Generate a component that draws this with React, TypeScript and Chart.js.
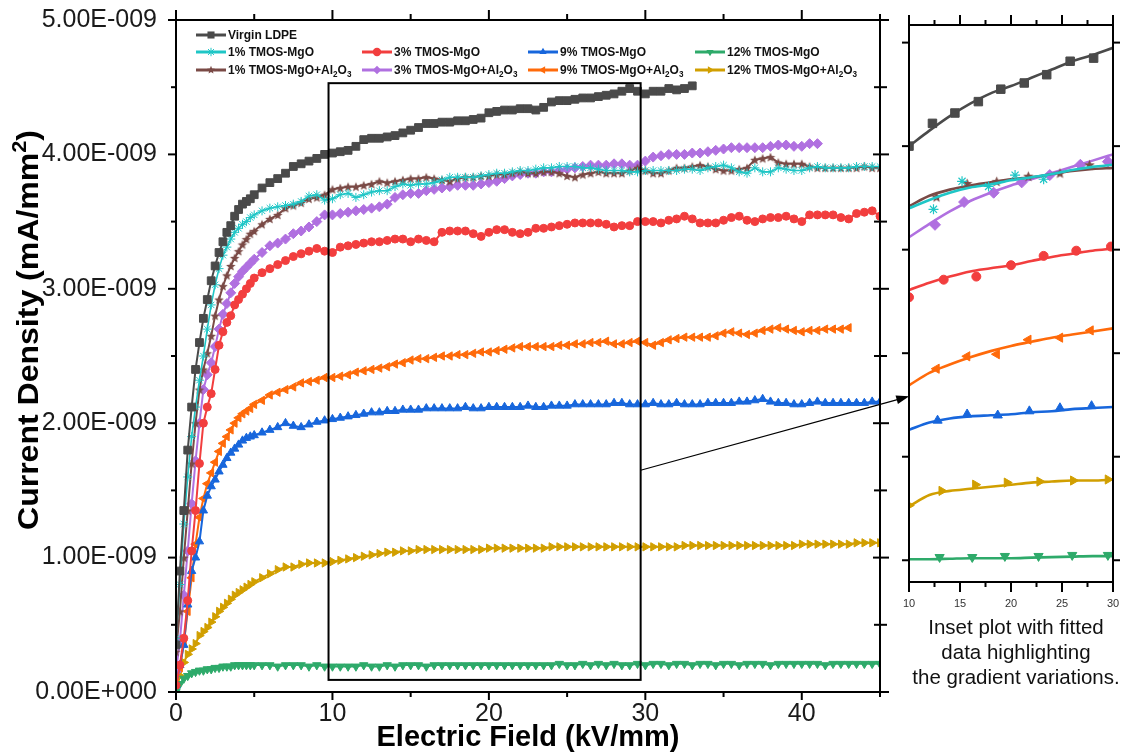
import React, { useEffect, useRef } from 'react';
import { Chart, registerables } from 'chart.js';

Chart.register(...registerables);

const FONT = "'Liberation Sans', Arial, Helvetica, sans-serif";

// ---------------- main plot data (current density in units of 1E-009 mA/mm2) ----------------
const xField = [
  0, 0.25, 0.5, 0.75, 1, 1.25, 1.5, 1.75, 2, 2.25, 2.5, 2.75, 3, 3.25, 3.5, 3.75, 4, 4.25, 4.5, 4.75, 5,
  5.5, 6, 6.5, 7, 7.5, 8, 8.5, 9, 9.5, 10,
  10.5, 11, 11.5, 12, 12.5, 13, 13.5, 14, 14.5, 15,
  15.5, 16, 16.5, 17, 17.5, 18, 18.5, 19, 19.5, 20,
  20.5, 21, 21.5, 22, 22.5, 23, 23.5, 24, 24.5, 25,
  25.5, 26, 26.5, 27, 27.5, 28, 28.5, 29, 29.5, 30,
  30.5, 31, 31.5, 32, 32.5, 33, 33.5, 34, 34.5, 35,
  35.5, 36, 36.5, 37, 37.5, 38, 38.5, 39, 39.5, 40,
  40.5, 41, 41.5, 42, 42.5, 43, 43.5, 44, 44.5, 45,
];

const virginLDPE = [
  0.35, 0.9, 1.35, 1.8, 2.12, 2.4, 2.6, 2.78, 2.92, 3.06, 3.17, 3.27, 3.35, 3.42, 3.47, 3.54, 3.59, 3.63, 3.65, 3.67, 3.7,
  3.75, 3.79, 3.82, 3.86, 3.91, 3.93, 3.95, 3.97, 4.0, 4.01,
  4.02, 4.03, 4.06, 4.11, 4.12, 4.12, 4.13, 4.14, 4.16, 4.18,
  4.2, 4.23, 4.23, 4.24, 4.24, 4.25, 4.25, 4.26, 4.27, 4.31,
  4.32, 4.33, 4.33, 4.34, 4.34, 4.33, 4.35, 4.39, 4.4, 4.4,
  4.41, 4.42, 4.42, 4.43, 4.44, 4.45, 4.47, 4.49, 4.47, 4.45,
  4.47, 4.47, 4.49, 4.48, 4.49, 4.51,
];

const mgo1 = [
  0.4, 0.8, 1.25, 1.6, 1.9, 2.12, 2.32, 2.5, 2.7, 2.88, 3.03, 3.15, 3.25, 3.31, 3.37, 3.42, 3.45, 3.48, 3.5, 3.53, 3.55,
  3.58, 3.6, 3.61, 3.62, 3.63, 3.65, 3.69, 3.7, 3.66, 3.67,
  3.7, 3.71, 3.68, 3.7, 3.72, 3.73, 3.73, 3.76, 3.78, 3.77,
  3.78, 3.78, 3.79, 3.81, 3.83, 3.83, 3.83, 3.83, 3.84, 3.85,
  3.86, 3.86, 3.87, 3.88, 3.88, 3.89, 3.9, 3.9, 3.91, 3.91,
  3.91, 3.9, 3.9, 3.89, 3.88, 3.88, 3.88, 3.87, 3.87, 3.88,
  3.88, 3.88, 3.88, 3.88, 3.89, 3.89, 3.88, 3.9, 3.91, 3.92,
  3.9, 3.87, 3.86, 3.9, 3.87, 3.87, 3.9, 3.89, 3.88, 3.88,
  3.9, 3.91, 3.9, 3.9, 3.9, 3.9, 3.91, 3.91, 3.91, 3.91,
];

const mgo3 = [
  0.05, 0.2, 0.4, 0.68, 1.05, 1.35, 1.7, 2.0, 2.12, 2.22, 2.4, 2.58, 2.68, 2.75, 2.8, 2.88, 2.92, 2.96, 3.0, 3.04, 3.08,
  3.12, 3.15, 3.18, 3.21, 3.24, 3.26, 3.28, 3.3, 3.28, 3.27,
  3.31, 3.32, 3.33, 3.34, 3.35, 3.35, 3.36, 3.37, 3.37, 3.35,
  3.37, 3.36, 3.35, 3.42, 3.43, 3.43, 3.43, 3.41, 3.39, 3.42,
  3.44, 3.44, 3.42, 3.41, 3.42, 3.45, 3.45, 3.46, 3.47, 3.48,
  3.49, 3.49, 3.49, 3.49, 3.48, 3.46, 3.47, 3.47, 3.5, 3.5,
  3.5, 3.49, 3.51, 3.52, 3.54, 3.52, 3.49, 3.49, 3.49, 3.51,
  3.53, 3.54, 3.51, 3.5, 3.52, 3.53, 3.53, 3.54, 3.52, 3.5,
  3.55, 3.55, 3.55, 3.55, 3.53, 3.52, 3.56, 3.57, 3.58, 3.54,
];

const mgo9 = [
  0.05, 0.2, 0.35, 0.65, 0.9, 1.0, 1.12, 1.35, 1.46, 1.53, 1.58, 1.64, 1.69, 1.74, 1.78, 1.81, 1.84, 1.87, 1.89, 1.9, 1.91,
  1.93, 1.95, 1.97, 2.0, 1.98, 1.97, 1.99, 2.01, 2.02, 2.03,
  2.04, 2.05, 2.06, 2.07, 2.08, 2.08, 2.09, 2.09, 2.1, 2.1,
  2.1, 2.11, 2.11, 2.11, 2.11, 2.11, 2.12, 2.11, 2.11, 2.12,
  2.12, 2.12, 2.12, 2.12, 2.13, 2.12, 2.12, 2.13, 2.13, 2.13,
  2.14, 2.14, 2.14, 2.14, 2.14, 2.15, 2.15, 2.14, 2.14, 2.14,
  2.15, 2.14, 2.14, 2.15, 2.14, 2.14, 2.14, 2.15, 2.15, 2.15,
  2.15, 2.16, 2.16, 2.17, 2.18, 2.16, 2.15, 2.15, 2.14, 2.14,
  2.15, 2.16, 2.15, 2.15, 2.15, 2.15, 2.15, 2.15, 2.16, 2.16,
];

const mgo12 = [
  0.0, 0.06, 0.1, 0.12, 0.14, 0.15, 0.16, 0.16, 0.17, 0.17, 0.18, 0.18, 0.19, 0.19, 0.19, 0.2, 0.2, 0.2, 0.2, 0.2, 0.2,
  0.2, 0.2, 0.19, 0.2, 0.2, 0.2, 0.19, 0.2, 0.19, 0.19,
  0.19, 0.19, 0.19, 0.2, 0.19, 0.19, 0.2, 0.19, 0.2, 0.2,
  0.2, 0.19, 0.2, 0.2, 0.2, 0.2, 0.2, 0.2, 0.2, 0.2,
  0.2, 0.2, 0.2, 0.2, 0.2, 0.2, 0.2, 0.2, 0.21, 0.2,
  0.2, 0.21, 0.2, 0.21, 0.2, 0.21, 0.2, 0.2, 0.21, 0.2,
  0.21, 0.21, 0.2, 0.21, 0.21, 0.2, 0.21, 0.21, 0.2, 0.21,
  0.21, 0.2, 0.21, 0.21, 0.21, 0.2, 0.21, 0.21, 0.21, 0.21,
  0.21, 0.21, 0.2, 0.21, 0.21, 0.21, 0.21, 0.21, 0.21, 0.21,
];

const mgoAl1 = [
  0.3, 0.6, 1.0, 1.35, 1.7, 2.0, 2.25, 2.4, 2.52, 2.65, 2.8, 2.92, 3.02, 3.1, 3.17, 3.23, 3.28, 3.33, 3.37, 3.41, 3.43,
  3.48, 3.52, 3.55, 3.6, 3.62, 3.64, 3.67, 3.68, 3.7, 3.74,
  3.75, 3.76, 3.76, 3.77, 3.78, 3.8, 3.79, 3.8, 3.81, 3.82,
  3.82, 3.83, 3.82, 3.81, 3.8, 3.82, 3.83, 3.83, 3.84, 3.84,
  3.85, 3.85, 3.86, 3.87, 3.86, 3.86, 3.87, 3.87, 3.86, 3.84,
  3.83, 3.85, 3.86, 3.87, 3.86, 3.86, 3.86, 3.88, 3.9, 3.88,
  3.86, 3.86, 3.88, 3.9, 3.9, 3.91, 3.92, 3.91, 3.89, 3.88,
  3.88, 3.89, 3.9, 3.96, 3.97, 3.98, 3.94, 3.93, 3.93, 3.93,
  3.91, 3.9, 3.9, 3.9, 3.9, 3.9, 3.9, 3.91, 3.9, 3.9,
];

const mgoAl3 = [
  0.15, 0.38, 0.72, 1.05, 1.4, 1.72, 2.0, 2.25, 2.36, 2.45, 2.57, 2.7, 2.81, 2.89, 2.97, 3.04, 3.09, 3.13, 3.16, 3.19, 3.22,
  3.27, 3.32, 3.34, 3.37, 3.41, 3.43, 3.46, 3.5, 3.55, 3.55,
  3.56, 3.57, 3.58, 3.59, 3.6, 3.61, 3.63, 3.68, 3.7, 3.71,
  3.71, 3.73, 3.74, 3.75, 3.76, 3.77, 3.77, 3.77, 3.78, 3.79,
  3.8, 3.82, 3.84, 3.85, 3.86, 3.86, 3.87, 3.87, 3.88, 3.89,
  3.9, 3.91, 3.92, 3.92, 3.92, 3.93, 3.93, 3.92, 3.92, 3.95,
  3.98, 3.99, 4.0, 4.0, 4.0, 4.01, 4.01, 4.02, 4.03, 4.04,
  4.05, 4.05, 4.05, 4.05, 4.05, 4.06, 4.07, 4.07, 4.06, 4.06,
  4.08, 4.08,
];

const mgoAl9 = [
  0.02, 0.18, 0.36, 0.6, 0.85, 1.1, 1.3, 1.44, 1.55, 1.63, 1.71, 1.79, 1.85, 1.9, 1.95, 2.0, 2.04, 2.07, 2.09, 2.11, 2.14,
  2.17, 2.21, 2.23, 2.25, 2.27, 2.3, 2.31, 2.32, 2.34, 2.34,
  2.35, 2.36, 2.38, 2.39, 2.4, 2.41, 2.42, 2.44, 2.45, 2.47,
  2.48, 2.48, 2.49, 2.5, 2.5, 2.51, 2.51, 2.52, 2.53, 2.53,
  2.54, 2.55, 2.56, 2.57, 2.57, 2.57, 2.57, 2.57, 2.58, 2.58,
  2.59, 2.59, 2.6, 2.6, 2.61, 2.59, 2.59, 2.6, 2.61, 2.6,
  2.58, 2.6, 2.62, 2.63, 2.64, 2.64, 2.64, 2.64, 2.65, 2.67,
  2.68, 2.67, 2.66, 2.67, 2.69, 2.7, 2.71, 2.7, 2.69, 2.68,
  2.69, 2.69, 2.7, 2.7, 2.7, 2.71,
];

const mgoAl12 = [
  0.0, 0.12, 0.22, 0.28, 0.32, 0.36, 0.42, 0.45, 0.48, 0.52, 0.56, 0.6, 0.63, 0.66, 0.69, 0.72, 0.74, 0.76, 0.78, 0.8, 0.82,
  0.85, 0.88, 0.91, 0.93, 0.93, 0.95, 0.96, 0.96, 0.96, 0.97,
  0.98, 0.99, 1.0, 1.01, 1.02, 1.03, 1.04, 1.04, 1.05, 1.05,
  1.06, 1.06, 1.06, 1.06, 1.06, 1.06, 1.06, 1.06, 1.06, 1.07,
  1.07, 1.07, 1.07, 1.07, 1.07, 1.07, 1.07, 1.08, 1.08, 1.08,
  1.08, 1.08, 1.08, 1.08, 1.08, 1.08, 1.08, 1.08, 1.08, 1.08,
  1.08, 1.08, 1.08, 1.08, 1.09, 1.09, 1.09, 1.09, 1.09, 1.09,
  1.09, 1.09, 1.09, 1.09, 1.09, 1.09, 1.09, 1.09, 1.09, 1.1,
  1.1, 1.1, 1.1, 1.1, 1.1, 1.1, 1.11, 1.11, 1.11, 1.11,
];

const xTickValues = [0, 10, 20, 30, 40];
const xMinorTicks = [5, 15, 25, 35, 45];
const yTickValues = [0, 1, 2, 3, 4, 5];
const yTickLabels = ['0.00E+000', '1.00E-009', '2.00E-009', '3.00E-009', '4.00E-009', '5.00E-009'];
const yMinorTicks = [0.5, 1.5, 2.5, 3.5, 4.5];

const zoomBoxX = [9.75, 29.7];
const zoomBoxY = [0.09, 4.53];
const arrowFrom = [29.7, 1.65];
const arrowTo = [46.87, 2.2];

const xTitle = 'Electric Field (kV/mm)';
const yTitle = 'Current Density (mA/mm²)';

// ---------------- inset data (arbitrary offset units) ----------------
const insetFitX = [10, 12, 14, 16, 18, 20, 22, 24, 26, 28, 30];
const insetFitVirgin = [4.0, 4.15, 4.29, 4.41, 4.51, 4.58, 4.66, 4.74, 4.82, 4.88, 4.95];
const insetFitMgo1 = [3.4, 3.48, 3.55, 3.6, 3.63, 3.67, 3.7, 3.73, 3.77, 3.8, 3.82];
const insetFitMgo3 = [2.61, 2.68, 2.74, 2.79, 2.82, 2.85, 2.89, 2.93, 2.96, 2.99, 3.01];
const insetFitMgo9 = [1.26, 1.33, 1.37, 1.39, 1.4, 1.41, 1.43, 1.44, 1.46, 1.47, 1.48];
const insetFitMgo12 = [0.01, 0.01, 0.015, 0.02, 0.02, 0.02, 0.025, 0.03, 0.035, 0.04, 0.04];
const insetFitAl1 = [3.42, 3.52, 3.58, 3.62, 3.65, 3.68, 3.7, 3.73, 3.76, 3.78, 3.79];
const insetFitAl3 = [3.12, 3.25, 3.37, 3.47, 3.55, 3.62, 3.68, 3.74, 3.8, 3.86, 3.92];
const insetFitAl9 = [1.69, 1.81, 1.89, 1.96, 2.02, 2.07, 2.11, 2.15, 2.18, 2.21, 2.24];
const insetFitAl12 = [0.52, 0.63, 0.67, 0.69, 0.71, 0.73, 0.75, 0.76, 0.77, 0.77, 0.78];

const insetMkXVirgin = [10, 12.3, 14.5, 16.8, 19.0, 21.3, 23.5, 25.8, 28.1];
const insetMkYVirgin = [4.0, 4.22, 4.32, 4.43, 4.55, 4.61, 4.69, 4.82, 4.85];
const insetMkXMgo1 = [12.4, 15.2, 17.8, 20.4, 23.2];
const insetMkYMgo1 = [3.39, 3.66, 3.61, 3.72, 3.68];
const insetMkXMgo3 = [10, 13.4, 16.6, 20, 23.2, 26.4, 29.8];
const insetMkYMgo3 = [2.54, 2.71, 2.74, 2.85, 2.94, 2.99, 3.03];
const insetMkXMgo9 = [12.8, 15.7, 18.7, 21.8, 24.8, 27.9];
const insetMkYMgo9 = [1.35, 1.41, 1.4, 1.44, 1.47, 1.49];
const insetMkXMgo12 = [13, 16.2, 19.4, 22.7, 26, 29.5];
const insetMkYMgo12 = [0.03, 0.03, 0.04, 0.04, 0.05, 0.05];
const insetMkXAl1 = [12.7, 15.7, 18.6, 21.7, 24.8, 27.7];
const insetMkYAl1 = [3.51, 3.64, 3.66, 3.71, 3.74, 3.82];
const insetMkXAl3 = [12.55, 15.4, 18.3, 21.05, 23.8, 26.8, 29.5];
const insetMkYAl3 = [3.24, 3.46, 3.55, 3.65, 3.72, 3.82, 3.85];
const insetMkXAl9 = [12.7, 15.7, 18.6, 21.7, 24.8, 27.8];
const insetMkYAl9 = [1.85, 1.97, 1.99, 2.13, 2.15, 2.22];
const insetMkXAl12 = [10, 13.2, 16.5, 19.6, 22.8, 26.1, 29.5];
const insetMkYAl12 = [0.53, 0.67, 0.73, 0.75, 0.76, 0.77, 0.78];

const insetXTicks = [10, 15, 20, 25, 30];
const insetXMinor = [12.5, 17.5, 22.5, 27.5];
const insetYTicks = [0, 1, 2, 3, 4, 5];
const insetCaption = ['Inset plot with fitted', 'data highlighting', 'the gradient variations.'];

// ---------------- series table ----------------
const SERIES = [
  { label: 'Virgin LDPE', main: virginLDPE, fit: insetFitVirgin, mx: insetMkXVirgin, my: insetMkYVirgin, color: '#4a4a4a', marker: 'rect', rot: 0, r: 5.5 },
  { label: '1% TMOS-MgO', main: mgo1, fit: insetFitMgo1, mx: insetMkXMgo1, my: insetMkYMgo1, color: '#1fc6c6', marker: 'star', rot: 0, r: 4.5 },
  { label: '3% TMOS-MgO', main: mgo3, fit: insetFitMgo3, mx: insetMkXMgo3, my: insetMkYMgo3, color: '#f23e3e', marker: 'circle', rot: 0, r: 4 },
  { label: '9% TMOS-MgO', main: mgo9, fit: insetFitMgo9, mx: insetMkXMgo9, my: insetMkYMgo9, color: '#1766dc', marker: 'triangle', rot: 0, r: 4.8 },
  { label: '12% TMOS-MgO', main: mgo12, fit: insetFitMgo12, mx: insetMkXMgo12, my: insetMkYMgo12, color: '#2eaa6a', marker: 'triangle', rot: 180, r: 4.8 },
  { label: '1% TMOS-MgO+Al₂O₃', main: mgoAl1, fit: insetFitAl1, mx: insetMkXAl1, my: insetMkYAl1, color: '#7a4a46', marker: 'star5', rot: 0, r: 5 },
  { label: '3% TMOS-MgO+Al₂O₃', main: mgoAl3, fit: insetFitAl3, mx: insetMkXAl3, my: insetMkYAl3, color: '#b070e0', marker: 'rectRot', rot: 0, r: 5 },
  { label: '9% TMOS-MgO+Al₂O₃', main: mgoAl9, fit: insetFitAl9, mx: insetMkXAl9, my: insetMkYAl9, color: '#ff6a0a', marker: 'triangle', rot: 270, r: 4.8 },
  { label: '12% TMOS-MgO+Al₂O₃', main: mgoAl12, fit: insetFitAl12, mx: insetMkXAl12, my: insetMkYAl12, color: '#d19f00', marker: 'triangle', rot: 90, r: 4.8 },
];

const LEGEND_ROWS = [[0], [1, 2, 3, 4], [5, 6, 7, 8]];

// ---------------- drawing helpers ----------------
const SUB: Record<string, string> = { '₂': '2', '₃': '3' };
const SUP: Record<string, string> = { '²': '2' };

function richText(ctx: any, text: string, x: number, y: number, size: number, weight: string, draw: boolean) {
  let cx = x;
  let run = '';
  const flush = () => {
    if (!run) return;
    ctx.font = `${weight} ${size}px ${FONT}`;
    if (draw) ctx.fillText(run, cx, y);
    cx += ctx.measureText(run).width;
    run = '';
  };
  for (const ch of text) {
    if (SUB[ch] || SUP[ch]) {
      flush();
      const small = size * 0.68;
      ctx.font = `${weight} ${small}px ${FONT}`;
      const dy = SUB[ch] ? size * 0.25 : -size * 0.38;
      const c = SUB[ch] || SUP[ch];
      if (draw) ctx.fillText(c, cx, y + dy);
      cx += ctx.measureText(c).width;
    } else {
      run += ch;
    }
  }
  flush();
  return cx - x;
}

function starPath(ctx: any, cx: number, cy: number, R: number) {
  const r = R * 0.45;
  ctx.beginPath();
  for (let i = 0; i < 10; i++) {
    const ang = -Math.PI / 2 + (i * Math.PI) / 5;
    const rad = i % 2 === 0 ? R : r;
    const px = cx + rad * Math.cos(ang);
    const py = cy + rad * Math.sin(ang);
    if (i === 0) ctx.moveTo(px, py);
    else ctx.lineTo(px, py);
  }
  ctx.closePath();
}

function makeStarCanvas(color: string, R: number) {
  const size = Math.ceil(R * 2 + 2);
  const c = document.createElement('canvas');
  c.width = size;
  c.height = size;
  const g = c.getContext('2d') as any;
  g.fillStyle = color;
  starPath(g, size / 2, size / 2 + R * 0.1, R);
  g.fill();
  return c;
}

function drawMarker(ctx: any, kind: string, x: number, y: number, r: number, color: string, rot: number) {
  ctx.save();
  ctx.translate(x, y);
  ctx.rotate((rot * Math.PI) / 180);
  ctx.fillStyle = color;
  ctx.strokeStyle = color;
  ctx.lineWidth = 1;
  ctx.beginPath();
  if (kind === 'rect') {
    const s = r * Math.SQRT1_2;
    ctx.rect(-s, -s, 2 * s, 2 * s);
    ctx.fill();
  } else if (kind === 'circle') {
    ctx.arc(0, 0, r, 0, Math.PI * 2);
    ctx.fill();
  } else if (kind === 'rectRot') {
    ctx.moveTo(0, -r);
    ctx.lineTo(r, 0);
    ctx.lineTo(0, r);
    ctx.lineTo(-r, 0);
    ctx.closePath();
    ctx.fill();
  } else if (kind === 'triangle') {
    for (let i = 0; i < 3; i++) {
      const a = (i * 2 * Math.PI) / 3;
      const px = Math.sin(a) * r;
      const py = -Math.cos(a) * r;
      if (i === 0) ctx.moveTo(px, py);
      else ctx.lineTo(px, py);
    }
    ctx.closePath();
    ctx.fill();
  } else if (kind === 'star') {
    for (let i = 0; i < 4; i++) {
      const a = (i * Math.PI) / 4;
      ctx.moveTo(Math.cos(a) * r, Math.sin(a) * r);
      ctx.lineTo(-Math.cos(a) * r, -Math.sin(a) * r);
    }
    ctx.stroke();
  } else if (kind === 'star5') {
    starPath(ctx, 0, 0, r);
    ctx.fill();
  }
  ctx.restore();
}

function line(ctx: any, x1: number, y1: number, x2: number, y2: number) {
  ctx.beginPath();
  ctx.moveTo(x1, y1);
  ctx.lineTo(x2, y2);
  ctx.stroke();
}

const mainDecor = {
  id: 'mainDecor',
  afterDraw(chart: any) {
    const { ctx, chartArea: a } = chart;
    const sx = chart.scales.x;
    const sy = chart.scales.y;
    ctx.save();
    ctx.strokeStyle = '#000';
    ctx.lineWidth = 2;
    ctx.strokeRect(a.left, a.top, a.right - a.left, a.bottom - a.top);

    // ticks
    xTickValues.forEach((v) => {
      const px = sx.getPixelForValue(v);
      line(ctx, px, a.bottom, px, a.bottom + 8);
      line(ctx, px, a.top, px, a.top - 10);
    });
    xMinorTicks.forEach((v) => {
      const px = sx.getPixelForValue(v);
      line(ctx, px, a.bottom, px, a.bottom + 5);
      line(ctx, px, a.top, px, a.top - 6);
    });
    yTickValues.forEach((v) => {
      const py = sy.getPixelForValue(v);
      line(ctx, a.left - 8, py, a.left, py);
      line(ctx, a.right - 7, py, a.right + 9, py);
    });
    yMinorTicks.forEach((v) => {
      const py = sy.getPixelForValue(v);
      line(ctx, a.left - 5, py, a.left, py);
      line(ctx, a.right - 6, py, a.right + 7, py);
    });

    // zoom box
    const bx0 = sx.getPixelForValue(zoomBoxX[0]);
    const bx1 = sx.getPixelForValue(zoomBoxX[1]);
    const by0 = sy.getPixelForValue(zoomBoxY[0]);
    const by1 = sy.getPixelForValue(zoomBoxY[1]);
    ctx.lineWidth = 2;
    ctx.strokeRect(bx0, by1, bx1 - bx0, by0 - by1);

    // arrow
    const ax0 = sx.getPixelForValue(arrowFrom[0]);
    const ay0 = sy.getPixelForValue(arrowFrom[1]);
    const ax1 = sx.getPixelForValue(arrowTo[0]);
    const ay1 = sy.getPixelForValue(arrowTo[1]);
    const ang = Math.atan2(ay1 - ay0, ax1 - ax0);
    const hl = 13;
    const hw = 4.5;
    ctx.lineWidth = 1.2;
    line(ctx, ax0, ay0, ax1 - Math.cos(ang) * hl * 0.8, ay1 - Math.sin(ang) * hl * 0.8);
    ctx.fillStyle = '#000';
    ctx.beginPath();
    ctx.moveTo(ax1, ay1);
    ctx.lineTo(ax1 - Math.cos(ang) * hl - Math.sin(ang) * hw, ay1 - Math.sin(ang) * hl + Math.cos(ang) * hw);
    ctx.lineTo(ax1 - Math.cos(ang) * hl + Math.sin(ang) * hw, ay1 - Math.sin(ang) * hl - Math.cos(ang) * hw);
    ctx.closePath();
    ctx.fill();

    // axis titles
    ctx.fillStyle = '#000';
    ctx.textBaseline = 'alphabetic';
    ctx.textAlign = 'left';
    ctx.font = `bold 29px ${FONT}`;
    const xtw = ctx.measureText(xTitle).width;
    ctx.fillText(xTitle, (a.left + a.right) / 2 - xtw / 2, 746);

    const ySize = 30;
    const ytw = richText(ctx, yTitle, 0, 0, ySize, 'bold', false);
    const yLen = 400;
    ctx.save();
    ctx.translate(27, 330);
    ctx.rotate(-Math.PI / 2);
    ctx.scale(yLen / ytw, 1);
    richText(ctx, yTitle, -ytw / 2, ySize * 0.36, ySize, 'bold', true);
    ctx.restore();

    // legend
    const colX = [196, 362, 528, 695];
    const rowY = [35, 52, 70];
    LEGEND_ROWS.forEach((row, ri) => {
      row.forEach((si, ci) => {
        const s = SERIES[si];
        const x0 = colX[ci];
        const y0 = rowY[ri];
        ctx.strokeStyle = s.color;
        ctx.lineWidth = 3;
        line(ctx, x0, y0, x0 + 30, y0);
        drawMarker(ctx, s.marker, x0 + 15, y0, s.marker === 'rect' ? 5 : 4.2, s.color, s.rot);
        ctx.fillStyle = '#111';
        ctx.textAlign = 'left';
        ctx.textBaseline = 'alphabetic';
        richText(ctx, s.label, x0 + 32, y0 + 4.3, 12, 'bold', true);
      });
    });
    ctx.restore();
  },
};

const insetDecor = {
  id: 'insetDecor',
  afterDraw(chart: any) {
    const { ctx, chartArea: a } = chart;
    const sx = chart.scales.x;
    const sy = chart.scales.y;
    ctx.save();
    ctx.strokeStyle = '#000';
    ctx.lineWidth = 2;
    ctx.strokeRect(a.left, a.top, a.right - a.left, a.bottom - a.top);
    insetXTicks.forEach((v) => {
      const px = sx.getPixelForValue(v);
      line(ctx, px, a.bottom, px, a.bottom + 10);
      line(ctx, px, a.top, px, a.top - 10);
    });
    insetXMinor.forEach((v) => {
      const px = sx.getPixelForValue(v);
      line(ctx, px, a.bottom, px, a.bottom + 5);
      line(ctx, px, a.top, px, a.top - 5);
    });
    insetYTicks.forEach((v) => {
      const py = sy.getPixelForValue(v);
      line(ctx, a.left - 7, py, a.left, py);
      line(ctx, a.right, py, a.right + 7, py);
    });
    ctx.fillStyle = '#111';
    ctx.font = `20.5px ${FONT}`;
    ctx.textAlign = 'center';
    ctx.textBaseline = 'alphabetic';
    const cx = (a.left + a.right) / 2 + 5;
    insetCaption.forEach((t, i) => ctx.fillText(t, cx, 634 + i * 25));
    ctx.restore();
  },
};

export default function App() {
  const mainRef = useRef<HTMLCanvasElement>(null);
  const insetRef = useRef<HTMLCanvasElement>(null);

  useEffect(() => {
    const starImgMain = makeStarCanvas('#7a4a46', 5);
    const starImgInset = makeStarCanvas('#7a4a46', 5.5);
    const styleFor = (s: any, img: any) => (s.marker === 'star5' ? img : s.marker);

    const mainDatasets = SERIES.map((s) => ({
      label: s.label,
      data: s.main.map((y: number, i: number) => ({ x: xField[i], y })),
      showLine: true,
      borderColor: s.color,
      backgroundColor: s.color,
      borderWidth: s.marker === 'star' ? 1.6 : 2,
      pointStyle: styleFor(s, starImgMain),
      pointRotation: s.rot,
      pointRadius: s.r,
      pointBorderWidth: 1,
      pointBorderColor: s.color,
      pointBackgroundColor: s.color,
      tension: 0,
    }));

    const main = new Chart(mainRef.current as any, {
      type: 'scatter',
      data: { datasets: mainDatasets as any },
      options: {
        responsive: false,
        animation: false,
        devicePixelRatio: 1,
        events: [],
        layout: { padding: { top: 20, right: 241, bottom: 0, left: 0 } },
        plugins: { legend: { display: false }, tooltip: { enabled: false } },
        scales: {
          x: {
            type: 'linear',
            min: 0,
            max: 45,
            grid: { display: false, drawTicks: false },
            border: { display: false },
            afterBuildTicks: (sc: any) => {
              sc.ticks = xTickValues.map((v) => ({ value: v }));
            },
            afterFit: (sc: any) => {
              sc.height = 64;
              sc.paddingLeft = 0;
              sc.paddingRight = 0;
            },
            ticks: {
              padding: 7,
              color: '#1a1a1a',
              font: { family: FONT, size: 25 },
              callback: (v: any) => String(v),
            },
          },
          y: {
            type: 'linear',
            min: 0,
            max: 5,
            grid: { display: false, drawTicks: false },
            border: { display: false },
            afterBuildTicks: (sc: any) => {
              sc.ticks = yTickValues.map((v) => ({ value: v }));
            },
            afterFit: (sc: any) => {
              sc.width = 176;
              sc.paddingTop = 0;
              sc.paddingBottom = 0;
            },
            ticks: {
              padding: 19,
              color: '#1a1a1a',
              font: { family: FONT, size: 25 },
              callback: (v: any) => yTickLabels[yTickValues.indexOf(Number(v))],
            },
          },
        },
      } as any,
      plugins: [mainDecor],
    });

    const insetDatasets: any[] = [];
    SERIES.forEach((s) => {
      insetDatasets.push({
        label: s.label + ' fit',
        data: insetFitX.map((x, i) => ({ x, y: s.fit[i] })),
        showLine: true,
        borderColor: s.color,
        backgroundColor: s.color,
        borderWidth: 2.6,
        pointRadius: 0,
        cubicInterpolationMode: 'monotone',
      });
      insetDatasets.push({
        label: s.label,
        data: s.mx.map((x: number, i: number) => ({ x, y: s.my[i] })),
        showLine: false,
        borderColor: s.color,
        backgroundColor: s.color,
        pointStyle: styleFor(s, starImgInset),
        pointRotation: s.rot,
        pointRadius: s.marker === 'rect' ? 6 : s.r + 0.5,
        pointBorderWidth: s.marker === 'star' ? 1.2 : 1,
        pointBorderColor: s.color,
        pointBackgroundColor: s.color,
      });
    });

    const inset = new Chart(insetRef.current as any, {
      type: 'scatter',
      data: { datasets: insetDatasets },
      options: {
        responsive: false,
        animation: false,
        devicePixelRatio: 1,
        events: [],
        layout: { padding: { top: 25, right: 8, bottom: 0, left: 29 } },
        plugins: { legend: { display: false }, tooltip: { enabled: false } },
        scales: {
          x: {
            type: 'linear',
            min: 10,
            max: 30,
            grid: { display: false, drawTicks: false },
            border: { display: false },
            afterBuildTicks: (sc: any) => {
              sc.ticks = insetXTicks.map((v) => ({ value: v }));
            },
            afterFit: (sc: any) => {
              sc.height = 174;
              sc.paddingLeft = 0;
              sc.paddingRight = 0;
            },
            ticks: {
              padding: 15,
              color: '#333',
              font: { family: FONT, size: 11 },
              callback: (v: any) => String(v),
            },
          },
          y: { type: 'linear', display: false, min: -0.21, max: 5.17 },
        },
      } as any,
      plugins: [insetDecor],
    });

    return () => {
      main.destroy();
      inset.destroy();
    };
  }, []);

  return (
    <div style={{ position: 'absolute', left: 0, top: 0, width: 1121, height: 756, background: '#fff', overflow: 'hidden' }}>
      <canvas ref={mainRef} width={1121} height={756} style={{ position: 'absolute', left: 0, top: 0, width: 1121, height: 756 }} />
      <canvas ref={insetRef} width={241} height={756} style={{ position: 'absolute', left: 880, top: 0, width: 241, height: 756 }} />
    </div>
  );
}
